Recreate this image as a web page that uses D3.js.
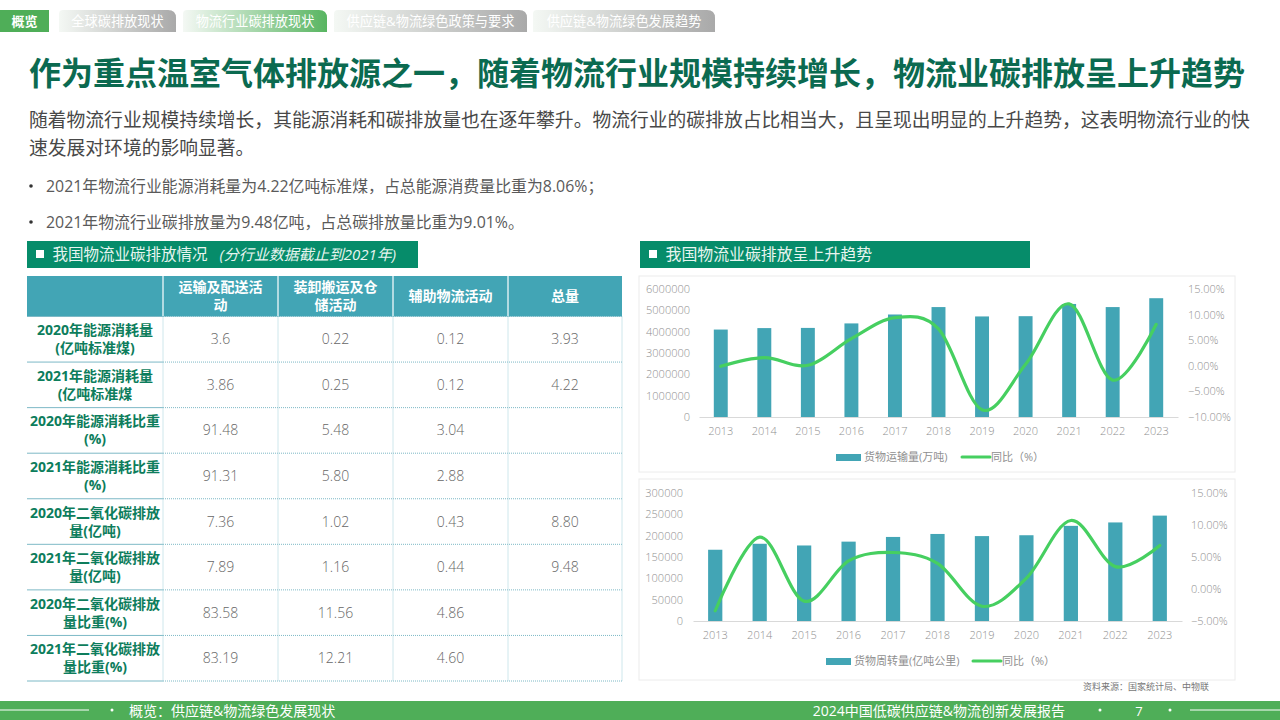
<!DOCTYPE html>
<html>
<head>
<meta charset="utf-8">
<script src="https://cdn.jsdelivr.net/npm/d3@7"></script>
<style>
html, body { margin: 0; padding: 0; background: #fff; }
svg { display: block; }
text { font-family: "Open Sans", "Noto Sans CJK SC", "Noto Sans", sans-serif; }
</style>
</head>
<body>
<svg id="page" width="1280" height="720"></svg>
<script>
var years = ["2013", "2014", "2015", "2016", "2017", "2018", "2019", "2020", "2021", "2022", "2023"];

// top chart
var freight = [4098900, 4167296, 4175886, 4386763, 4804850, 5152732, 4713624, 4725862, 5298499, 5152600, 5568300];
var freightYoy = [-0.1, 1.6, 0.1, 5.3, 9.4, 7.2, -8.6, 0.3, 12.1, -2.8, 8.1];
var freightTicks = [0, 1000000, 2000000, 3000000, 4000000, 5000000, 6000000];
var freightYoyTicks = [-10, -5, 0, 5, 10, 15];

// bottom chart
var turnover = [167000, 181000, 177000, 186000, 197000, 204000, 199000, 201000, 223000, 231000, 247000];
var turnoverYoy = [-3.4, 8.1, -1.9, 4.4, 5.7, 4.0, -2.7, 1.7, 10.7, 3.5, 6.8];
var turnoverTicks = [0, 50000, 100000, 150000, 200000, 250000, 300000];
var turnoverYoyTicks = [-5, 0, 5, 10, 15];

// table
var tableHead = ["", "运输及配送活\n动", "装卸搬运及仓\n储活动", "辅助物流活动", "总量"];
var rowLabels = [
  "2020年能源消耗量\n(亿吨标准煤)", "2021年能源消耗量\n(亿吨标准煤",
  "2020年能源消耗比重\n(%)", "2021年能源消耗比重\n(%)",
  "2020年二氧化碳排放\n量(亿吨)", "2021年二氧化碳排放\n量(亿吨)",
  "2020年二氧化碳排放\n量比重(%)", "2021年二氧化碳排放\n量比重(%)"
];
var tableRows = [
  ["3.6", "0.22", "0.12", "3.93"],
  ["3.86", "0.25", "0.12", "4.22"],
  ["91.48", "5.48", "3.04", ""],
  ["91.31", "5.80", "2.88", ""],
  ["7.36", "1.02", "0.43", "8.80"],
  ["7.89", "1.16", "0.44", "9.48"],
  ["83.58", "11.56", "4.86", ""],
  ["83.19", "12.21", "4.60", ""]
];

var tabLabels = ["全球碳排放现状", "物流行业碳排放现状", "供应链&物流绿色政策与要求", "供应链&物流绿色发展趋势"];
var titleText = "作为重点温室气体排放源之一，随着物流行业规模持续增长，物流业碳排放呈上升趋势";
var introLines = [
  "随着物流行业规模持续增长，其能源消耗和碳排放量也在逐年攀升。物流行业的碳排放占比相当大，且呈现出明显的上升趋势，这表明物流行业的快",
  "速发展对环境的影响显著。"
];
var bullets = [
  "2021年物流行业能源消耗量为4.22亿吨标准煤，占总能源消费量比重为8.06%；",
  "2021年物流行业碳排放量为9.48亿吨，占总碳排放量比重为9.01%。"
];

var green = "#4fae58", dark = "#0b6a50", band = "#068c6a", teal = "#42a5b5", lineGreen = "#46cf60";
var grey = "#8f8f8f", bodyText = "#484848";

var svg = d3.select("#page");
var defs = svg.append("defs");

function addGrad(id, end) {
  var g = defs.append("linearGradient").attr("id", id);
  g.append("stop").attr("offset", "0%").attr("stop-color", "#f4f8f4");
  g.append("stop").attr("offset", "100%").attr("stop-color", end);
}
addGrad("tabGrey", "#a9a9a9");
addGrad("tabGreen", "#58b561");

function put(x, y, str, size, color, anchor, weight) {
  return svg.append("text").attr("x", x).attr("y", y).text(str)
    .attr("font-size", size).attr("fill", color)
    .attr("text-anchor", anchor || "start")
    .attr("font-weight", weight || 400);
}

// top nav
svg.append("rect").attr("x", 0).attr("y", 10).attr("width", 49).attr("height", 22).attr("fill", green);
put(24.5, 26, "概览", 13, "#fff", "middle", 700);

var tabX = [59, 183, 334, 533], tabEnd = [176, 327, 527, 715];
tabLabels.forEach(function(t, i) {
  var x0 = tabX[i], x1 = tabEnd[i];
  var p = d3.path();
  p.moveTo(x0, 32); p.lineTo(x0, 14); p.quadraticCurveTo(x0, 10, x0 + 4, 10);
  p.lineTo(x1 - 8, 10); p.quadraticCurveTo(x1, 10, x1, 18); p.lineTo(x1, 32); p.closePath();
  svg.append("path").attr("d", p.toString()).attr("fill", i == 1 ? "url(#tabGreen)" : "url(#tabGrey)");
  put((x0 + x1) / 2, 26, t, 13.2, "#fff", "middle");
});

// heading and text
put(29, 85, titleText, 32, dark, "start", 700);
put(29, 127, introLines[0], 18.8, bodyText);
put(29, 155, introLines[1], 18.8, bodyText);
bullets.forEach(function(b, i) {
  var y = i == 0 ? 192 : 228;
  svg.append("circle").attr("cx", 31).attr("cy", y - 6).attr("r", 1.8).attr("fill", "#333");
  put(46, y, b, 15.9, "#5a5a5a");
});

// section bands
function sectionBand(x, w, label, note, size) {
  svg.append("rect").attr("x", x).attr("y", 241).attr("width", w).attr("height", 27).attr("fill", band);
  svg.append("rect").attr("x", x + 9).attr("y", 250).attr("width", 8).attr("height", 8).attr("fill", "#fff");
  var t = put(x + 25.5, 260, label, size, "#e8f5f0");
  if (note) t.append("tspan").attr("dx", 12).attr("font-size", 15).attr("font-style", "italic").text(note);
}
sectionBand(27, 391, "我国物流业碳排放情况", "(分行业数据截止到2021年)", 15.5);
sectionBand(640, 390, "我国物流业碳排放呈上升趋势", null, 15.9);

// table
var colX = d3.scaleOrdinal().domain(d3.range(6)).range([27, 163, 278, 393, 508, 622]);
var rowY = d3.scaleLinear().domain([0, 8]).range([316.5, 681]);

svg.append("rect").attr("x", colX(0)).attr("y", 276).attr("width", colX(5) - colX(0)).attr("height", 40.5).attr("fill", teal);

function multiline(cx, cy, str, size, color, weight, lh) {
  var parts = str.split("\n");
  parts.forEach(function(s, i) {
    put(cx, cy + (i - (parts.length - 1) / 2) * lh + size * 0.36, s, size, color, "middle", weight);
  });
}

tableHead.forEach(function(h, i) {
  if (h) multiline((colX(i) + colX(i + 1)) / 2, 296, h, 14, "#fff", 700, 18);
  if (i > 0) svg.append("line").attr("x1", colX(i)).attr("x2", colX(i)).attr("y1", 276).attr("y2", 316)
    .attr("stroke", "#d8eef2").attr("stroke-width", 1.5);
});

d3.range(0, 9).forEach(function(r) {
  svg.append("line").attr("x1", colX(0)).attr("x2", colX(1)).attr("y1", rowY(r)).attr("y2", rowY(r))
    .attr("stroke", "#7db9c6").attr("stroke-width", 1);
  svg.append("line").attr("x1", colX(1)).attr("x2", colX(5)).attr("y1", rowY(r)).attr("y2", rowY(r))
    .attr("stroke", "#7db9c6").attr("stroke-width", 1).attr("stroke-dasharray", "1 1");
});
d3.range(1, 6).forEach(function(c) {
  svg.append("line").attr("x1", colX(c)).attr("x2", colX(c)).attr("y1", rowY(0)).attr("y2", rowY(8))
    .attr("stroke", "#9ccdd8").attr("stroke-width", 1).attr("stroke-dasharray", "1 1");
});

rowLabels.forEach(function(l, r) {
  var cy = (rowY(r) + rowY(r + 1)) / 2;
  multiline((colX(0) + colX(1)) / 2, cy, l, 14, "#0d7d5c", 700, 18);
  tableRows[r].forEach(function(v, c) {
    put((colX(c + 1) + colX(c + 2)) / 2, cy + 5, v, 14, "#666", "middle", 300);
  });
});

// combo charts
function comboChart(o) {
  svg.append("rect").attr("x", 639).attr("y", o.boxTop).attr("width", 596).attr("height", o.boxH)
    .attr("fill", "#fff").attr("stroke", "#ececec");

  var x = d3.scaleBand().domain(years).range([o.x0, o.x1]).paddingInner(0.68).paddingOuter(0.34);
  var yL = d3.scaleLinear().domain(d3.extent(o.ticks)).range([o.bottom, o.top]);
  var yR = d3.scaleLinear().domain(d3.extent(o.rTicks)).range([o.bottom, o.top]);
  var g = svg.append("g");

  g.selectAll("rect.bar").data(o.values).enter().append("rect").attr("class", "bar")
    .attr("x", function(d, i) { return x(years[i]); })
    .attr("y", function(d) { return yL(d); })
    .attr("width", x.bandwidth())
    .attr("height", function(d) { return o.bottom - yL(d); })
    .attr("fill", teal);

  var left = g.append("g").attr("transform", "translate(" + o.x0 + ",0)")
    .call(d3.axisLeft(yL).tickValues(o.ticks).tickSize(0).tickPadding(o.leftPad).tickFormat(d3.format("d")));
  var right = g.append("g").attr("transform", "translate(" + o.x1 + ",0)")
    .call(d3.axisRight(yR).tickValues(o.rTicks).tickSize(0).tickPadding(o.rightPad).tickFormat(function(d) { return d3.format(".2f")(d) + "%"; }));
  var bottom = g.append("g").attr("transform", "translate(0," + o.bottom + ")")
    .call(d3.axisBottom(x).tickSize(0).tickPadding(o.yearPad));

  left.select(".domain").remove();
  right.select(".domain").remove();
  bottom.select(".domain").attr("stroke", "#d9d9d9");
  [left, right, bottom].forEach(function(a) {
    a.selectAll("text").attr("font-size", 11).attr("fill", grey).attr("font-weight", 300)
      .style("font-family", '"Open Sans", "Noto Sans CJK SC", sans-serif');
  });

  var line = d3.line()
    .x(function(d, i) { return x(years[i]) + x.bandwidth() / 2; })
    .y(function(d) { return yR(d); })
    .curve(d3.curveCardinal.tension(0));
  g.append("path").attr("d", line(o.yoy)).attr("fill", "none")
    .attr("stroke", lineGreen).attr("stroke-width", 3.2).attr("stroke-linecap", "round");

  // legend
  svg.append("rect").attr("x", o.legX).attr("y", o.legY - 3).attr("width", 25).attr("height", 7).attr("fill", teal);
  put(o.legX + 28, o.legY + 4, o.name, 11, grey);
  svg.append("line").attr("x1", o.legX2).attr("x2", o.legX2 + 28).attr("y1", o.legY).attr("y2", o.legY)
    .attr("stroke", lineGreen).attr("stroke-width", 3).attr("stroke-linecap", "round");
  put(o.legX2 + 29, o.legY + 4, "同比（%）", 11, grey);
}

comboChart({
  boxTop: 276, boxH: 196, x0: 699, x1: 1178, top: 289, bottom: 417, yearPad: 10,
  values: freight, yoy: freightYoy, ticks: freightTicks, rTicks: freightYoyTicks,
  leftPad: 9, rightPad: 10, legX: 836, legX2: 962, legY: 457, name: "货物运输量(万吨)"
});
comboChart({
  boxTop: 479, boxH: 201, x0: 693, x1: 1182, top: 493, bottom: 621, yearPad: 10,
  values: turnover, yoy: turnoverYoy, ticks: turnoverTicks, rTicks: turnoverYoyTicks,
  leftPad: 10, rightPad: 9, legX: 826, legX2: 973, legY: 661, name: "货物周转量(亿吨公里)"
});

put(1083, 690, "资料来源：国家统计局、中物联", 9, "#777");

// footer
svg.append("rect").attr("x", 0).attr("y", 701).attr("width", 1280).attr("height", 19).attr("fill", green);
svg.append("line").attr("x1", 0).attr("x2", 89).attr("y1", 710).attr("y2", 710).attr("stroke", "#fff");
svg.append("circle").attr("cx", 112).attr("cy", 710).attr("r", 1.5).attr("fill", "#fff");
put(129, 716, "概览：供应链&物流绿色发展现状", 14, "#fff");
put(1065, 716, "2024中国低碳供应链&物流创新发展报告", 14, "#fff", "end");
svg.append("circle").attr("cx", 1100).attr("cy", 710).attr("r", 1.5).attr("fill", "#fff");
put(1139, 716, "7", 13, "#fff", "middle");
svg.append("circle").attr("cx", 1170).attr("cy", 710).attr("r", 1.5).attr("fill", "#fff");
svg.append("line").attr("x1", 1190).attr("x2", 1280).attr("y1", 710).attr("y2", 710).attr("stroke", "#fff");
</script>
</body>
</html>
